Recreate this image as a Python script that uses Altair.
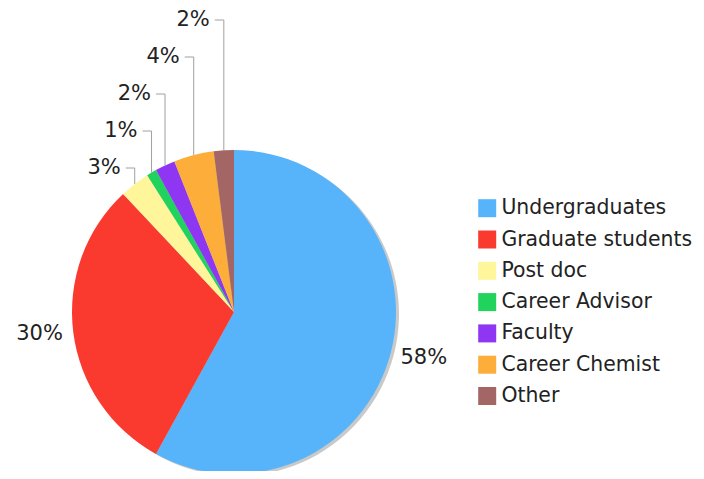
import math
import altair as alt
import pandas as pd

# ---- data ----
categories = ["Undergraduates", "Graduate students", "Post doc", "Career Advisor",
              "Faculty", "Career Chemist", "Other"]
percents = [58, 30, 3, 1, 2, 4, 2]
colors = ["#58B4FA", "#FA3A2E", "#FFF59A", "#1FD35C", "#8E36F2", "#FCAD3A", "#A46565"]

# ---- layout (chart coordinates; page adds 8px margin) ----
W, H = 688, 463
CX, CY, R = 226, 304, 162
BIG_R = 196            # radius of the two large labels
SMALL_TOP_Y = 12       # y of the highest small label
SMALL_STEP = 37        # vertical spacing of stacked small labels
FONT = "DejaVu Sans"
FS = 21
LEG_FS = 20.4

order = list(range(len(categories)))
df = pd.DataFrame({"category": categories, "pct": percents, "order": order,
                   "label": [f"{p}%" for p in percents]})

# mid angle of every slice (clockwise from 12 o'clock), from the data
total = sum(percents)
cum = 0
mids = []
for p in percents:
    mids.append((cum + p / 2) / total * 2 * math.pi)
    cum += p

big_rows, small_rows, leader_rows = [], [], []
small_idx = [i for i, p in enumerate(percents) if p < 10]
# highest label belongs to the last slice (closest to 12 o'clock)
for rank, i in enumerate(reversed(small_idx)):
    a = mids[i]
    rx = CX + R * math.sin(a)
    ry = CY - R * math.cos(a)
    ly = SMALL_TOP_Y + rank * SMALL_STEP
    small_rows.append({"x": rx - 14, "y": ly, "label": df.label[i]})
    leader_rows += [
        {"id": i, "k": 0, "x": rx - 9, "y": ly},
        {"id": i, "k": 1, "x": rx, "y": ly},
        {"id": i, "k": 2, "x": rx, "y": ry},
    ]
for i, p in enumerate(percents):
    if p >= 10:
        a = mids[i]
        big_rows.append({"x": CX + BIG_R * math.sin(a),
                         "y": CY - BIG_R * math.cos(a) - 3, "label": df.label[i]})

color_scale = alt.Scale(domain=categories, range=colors)

base = alt.Chart(df)

shadow = base.mark_arc(outerRadius=R, color="#c9c9c9").encode(
    theta=alt.Theta("pct:Q", stack=True),
    order=alt.Order("order:Q"),
    x=alt.value(CX + 3), y=alt.value(CY + 2),
)

pie = base.mark_arc(outerRadius=R).encode(
    theta=alt.Theta("pct:Q", stack=True),
    order=alt.Order("order:Q"),
    color=alt.Color("category:N", scale=color_scale, sort=categories,
                    legend=alt.Legend(title=None, orient="none", legendX=469, legendY=190,
                                      symbolType="square", symbolSize=324,
                                      symbolStrokeWidth=0, labelFont=FONT,
                                      labelFontSize=LEG_FS, labelColor="#222222",
                                      labelLimit=400,
                                      rowPadding=10.3, padding=0, labelOffset=4)),
    x=alt.value(CX), y=alt.value(CY),
)

leaders = alt.Chart(pd.DataFrame(leader_rows)).mark_line(
    color="#a0a0a0", strokeWidth=1).encode(
    x=alt.X("x:Q", scale=None), y=alt.Y("y:Q", scale=None),
    detail="id:N", order="k:Q",
)

small_text = alt.Chart(pd.DataFrame(small_rows)).mark_text(
    align="right", baseline="middle", font=FONT, fontSize=FS, color="#222222").encode(
    x=alt.X("x:Q", scale=None), y=alt.Y("y:Q", scale=None), text="label:N",
)

big_text = alt.Chart(pd.DataFrame(big_rows)).mark_text(
    align="center", baseline="middle", font=FONT, fontSize=FS, color="#222222").encode(
    x=alt.X("x:Q", scale=None), y=alt.Y("y:Q", scale=None), text="label:N",
)

chart = alt.layer(shadow, pie, leaders, small_text, big_text).properties(
    width=W, height=H, padding=0,
    autosize=alt.AutoSizeParams(type="none"),
).configure_view(stroke=None).resolve_scale(color="independent")

chart.save("out.html", embed_options={"renderer": "svg", "actions": False})
